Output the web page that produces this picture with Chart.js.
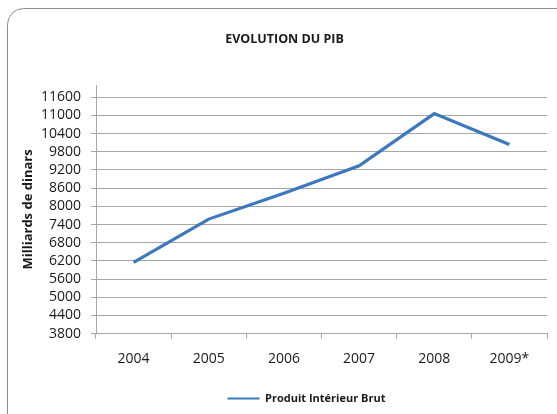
<!DOCTYPE html>
<html>
<head>
<meta charset="utf-8">
<script src="https://cdn.jsdelivr.net/npm/chart.js@4.4.1/dist/chart.umd.min.js"></script>
<style>
  html, body { margin: 0; padding: 0; background: #ffffff; overflow: hidden; }
  #c { display: block; }
</style>
</head>
<body>
<canvas id="c" width="557" height="414"></canvas>
<script>
const categories = ['2004', '2005', '2006', '2007', '2008', '2009*'];
const pibValues = [6150, 7580, 8430, 9340, 11060, 10040];
const yTickValues = [3800, 4400, 5000, 5600, 6200, 6800, 7400, 8000, 8600, 9200, 9800, 10400, 11000, 11600];
const seriesLabel = 'Produit Intérieur Brut';
const chartTitle = 'EVOLUTION DU PIB';
const yAxisTitle = 'Milliards de dinars';

const FONT = "'Open Sans', 'DejaVu Sans', sans-serif";
const GRID = '#a6a6a6';
const LINE = '#3b78c0';

const framePlugin = {
  id: 'frame',
  beforeDraw(chart) {
    const ctx = chart.ctx;
    ctx.save();
    ctx.fillStyle = '#ffffff';
    ctx.fillRect(0, 0, chart.width, chart.height);
    ctx.strokeStyle = '#8c8c8c';
    ctx.lineWidth = 1;
    ctx.beginPath();
    ctx.roundRect(7.5, 8.5, 640, 480, 16);
    ctx.stroke();
    ctx.restore();
  }
};

const shiftPlugin = {
  id: 'shiftBlocks',
  afterLayout(chart) {
    if (chart.titleBlock) { chart.titleBlock.left += 3; chart.titleBlock.right += 3; }
    if (chart.legend) { chart.legend.left += 25; chart.legend.right += 25; }
  }
};

new Chart(document.getElementById('c'), {
  type: 'line',
  data: {
    labels: categories,
    datasets: [{
      label: seriesLabel,
      data: pibValues,
      borderColor: LINE,
      backgroundColor: LINE,
      borderWidth: 3.2,
      pointRadius: 0,
      tension: 0,
      fill: false
    }]
  },
  options: {
    responsive: false,
    animation: false,
    devicePixelRatio: 1,
    layout: { padding: { left: 16, right: 10, top: 0, bottom: 0 } },
    plugins: {
      title: {
        display: true,
        text: chartTitle,
        color: '#1a1a1a',
        font: { family: FONT, size: 12.5, weight: 'bold' },
        padding: { top: 31.5, bottom: 38.6 }
      },
      legend: {
        display: true,
        position: 'bottom',
        labels: {
          color: '#1a1a1a',
          font: { family: FONT, size: 11, weight: 'bold' },
          usePointStyle: true,
          pointStyle: 'line',
          pointStyleWidth: 32,
          padding: 1,
          generateLabels(chart) {
            const items = Chart.defaults.plugins.legend.labels.generateLabels(chart);
            items.forEach(it => { it.lineWidth = 2.2; it.pointStyle = 'line'; });
            return items;
          }
        }
      },
      tooltip: { enabled: false }
    },
    scales: {
      x: {
        type: 'category',
        offset: true,
        grid: { offset: true, drawOnChartArea: false, drawTicks: true, tickLength: 5, color: GRID },
        border: { display: true, color: GRID },
        ticks: { color: '#1a1a1a', font: { family: FONT, size: 14 }, padding: 12, maxRotation: 0, autoSkip: false },
        afterFit(scale) { scale.height = 58.3; }
      },
      y: {
        type: 'linear',
        min: 3800,
        max: 12000,
        afterBuildTicks(scale) { scale.ticks = yTickValues.map(v => ({ value: v })); },
        grid: { color: GRID, drawTicks: true, tickLength: 5 },
        border: { display: true, color: GRID },
        ticks: {
          color: '#1a1a1a', font: { family: FONT, size: 14 }, padding: 10, autoSkip: false,
          callback: (v) => String(v)
        },
        title: {
          display: true,
          text: yAxisTitle,
          color: '#1a1a1a',
          font: { family: FONT, size: 13, weight: 'bold' },
          padding: { top: 4, bottom: 0 }
        },
        afterFit(scale) { scale.width = 80; }
      }
    }
  },
  plugins: [framePlugin, shiftPlugin]
});
</script>
</body>
</html>
